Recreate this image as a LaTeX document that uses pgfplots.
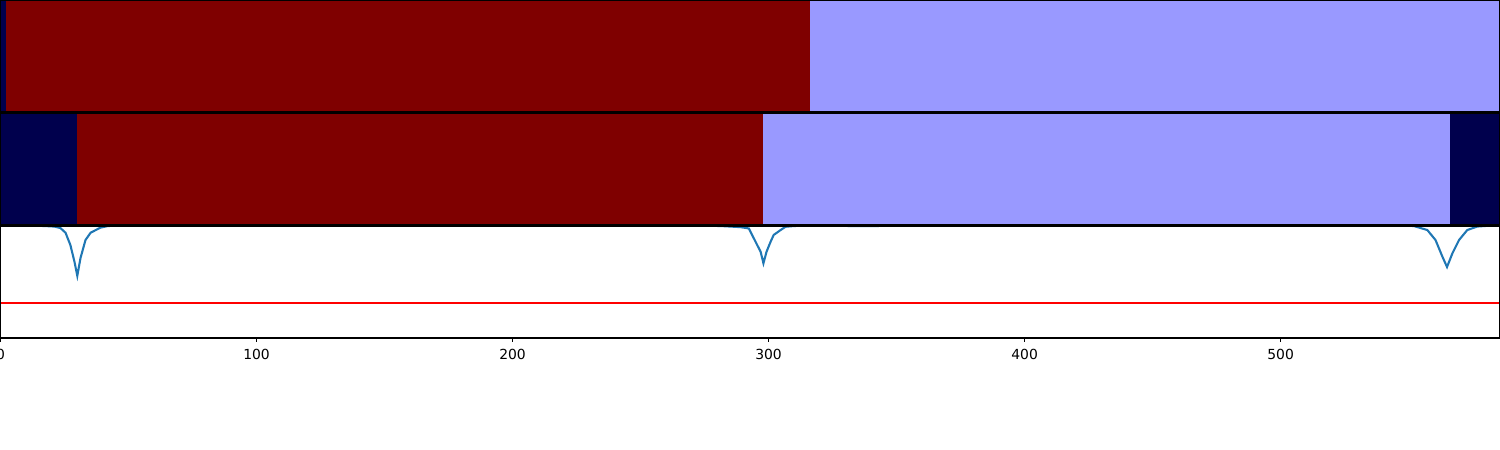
\documentclass[border=0pt]{standalone}
\usepackage{fontspec}
\setmainfont{DejaVu Sans}
\usepackage{pgfplots}
\pgfplotsset{compat=1.18}
\definecolor{navy}{HTML}{00004D}
\definecolor{dred}{HTML}{7F0000}
\definecolor{lblue}{HTML}{9999FF}
\definecolor{mplblue}{HTML}{1F77B4}
\begin{document}
\begin{tikzpicture}
\useasboundingbox (0,0) rectangle (750pt,225pt);
\pgfplotsset{panel/.style={scale only axis, width=749.5pt, height=56pt,
  xmin=0, xmax=585.5, ymin=0, ymax=1, axis on top,
  axis line style={line width=0.55pt, black}, ytick=\empty, anchor=south west}}
% panel 1
\begin{axis}[panel, at={(0.25pt,169pt)}, xtick=\empty]
\addplot[fill=navy, draw=none] coordinates {(0,1) (2,1)} \closedcycle;
\addplot[fill=dred, draw=none] coordinates {(2,1) (316,1)} \closedcycle;
\addplot[fill=lblue, draw=none] coordinates {(316,1) (585.5,1)} \closedcycle;
\end{axis}
% panel 2
\begin{axis}[panel, at={(0.25pt,112.5pt)}, xtick=\empty]
\addplot[fill=navy, draw=none] coordinates {(0,1) (30,1)} \closedcycle;
\addplot[fill=dred, draw=none] coordinates {(30,1) (298,1)} \closedcycle;
\addplot[fill=lblue, draw=none] coordinates {(298,1) (566,1)} \closedcycle;
\addplot[fill=navy, draw=none] coordinates {(566,1) (585.5,1)} \closedcycle;
\end{axis}
% panel 3
\begin{axis}[panel, at={(0.25pt,56pt)}, xtick={0,100,200,300,400,500},
  xtick pos=bottom, tick align=outside, major tick length=1.75pt,
  tick style={line width=0.55pt, black},
  /pgf/number format/assume math mode=true,
  xticklabel style={font=\fontsize{6.94}{8}\selectfont, inner sep=0pt, yshift=-3.5pt}]
\addplot[mplblue, line width=1.04pt] coordinates {
(0,1.004) (10,1.004) (17,1.0) (21,0.995) (23.4,0.982) (25.4,0.94) (27.3,0.83)
(28.9,0.68) (30,0.555) (31.25,0.714) (33.2,0.875) (35.2,0.94) (39,0.985) (42,1.0) (50,1.004)
(270,1.004) (281,1.0) (289,0.99) (292.3,0.978) (294.9,0.86) (296.9,0.77) (298,0.667)
(299.2,0.77) (300.8,0.86) (302,0.92) (304.7,0.964) (306.6,0.993) (310,1.0) (318,1.004)
(328,1.004) (332,0.999) (342,0.999) (346,1.004)
(545,1.004) (552,1.0) (557.3,0.964) (560.5,0.875) (563.2,0.726) (565,0.634)
(567.1,0.756) (569.7,0.875) (572.9,0.964) (576.8,0.995) (581,1.002) (585.5,1.004)};
\addplot[red, line width=1.04pt] coordinates {(0,0.3125) (585.5,0.3125)};
\end{axis}
\end{tikzpicture}
\end{document}
